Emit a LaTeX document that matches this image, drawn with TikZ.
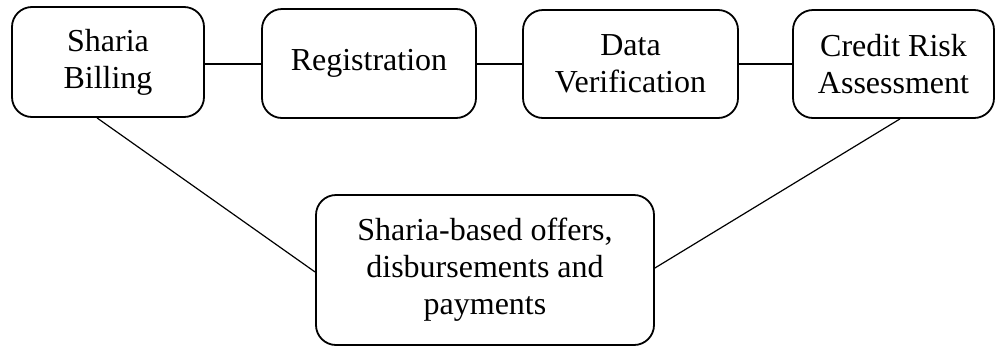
\documentclass[tikz,border=0pt]{standalone}
\usepackage{fontspec}
\setmainfont{Liberation Serif}
\begin{document}
\begin{tikzpicture}[x=1pt,y=-1pt,
  stepbox/.style={draw, line width=1.8pt, rounded corners=20pt, align=center, inner sep=0pt,
    font=\fontsize{32}{37}\selectfont},
  link/.style={line width=1.2pt}]
\useasboundingbox (0,0) rectangle (996,346);
\node[stepbox, minimum width=192pt, minimum height=110pt] (b1) at (108,62) {Sharia\\Billing};
\node[stepbox, minimum width=214pt, minimum height=109pt] (b2) at (369,63.5) {Registration};
\node[stepbox, minimum width=215pt, minimum height=108pt] (b3) at (630.5,64) {Data\\Verification};
\node[stepbox, minimum width=201pt, minimum height=108pt] (b4) at (893.5,64) {Credit Risk\\Assessment};
\node[stepbox, minimum width=338pt, minimum height=150pt] (b5) at (485,270) {Sharia-based offers,\\disbursements and\\payments};
\draw[link] (b3.west -| b1.east) -- (b3.west -| b2.west);
\draw[link] (b3.west -| b2.east) -- (b3.west);
\draw[link] (b3.east) -- (b4.west);
\draw[link] ([xshift=-11pt]b1.south) -- ([yshift=-2pt]b5.west);
\draw[link] ([xshift=6.5pt]b4.south) -- ([yshift=2pt]b5.east);
\end{tikzpicture}
\end{document}
